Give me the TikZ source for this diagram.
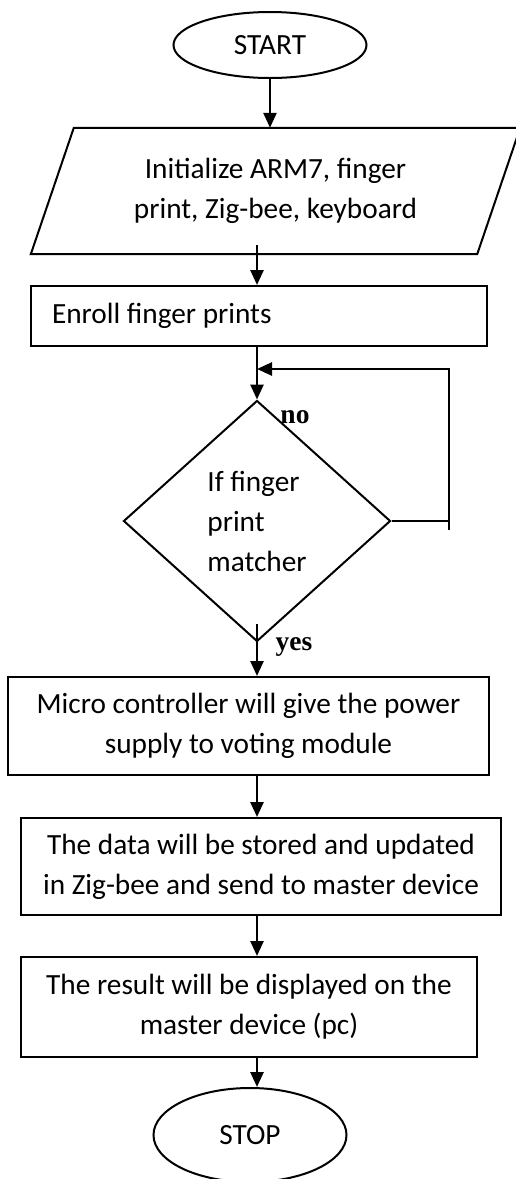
\documentclass[tikz,border=0pt]{standalone}
\usepackage{fontspec}
\setmainfont{Carlito}
\newfontfamily\lblfont{Liberation Serif}
\usetikzlibrary{shapes.geometric,arrows.meta,calc}
\tikzset{
  box/.style={draw, line width=2pt, rectangle, inner sep=0pt, align=center},
  oval/.style={draw, line width=2pt, ellipse, inner sep=0pt},
  decision/.style={draw, line width=2pt, diamond, inner sep=0pt, align=left},
  arr/.style={line width=2.6pt, -{Triangle[length=15pt,width=13pt]}},
  lbl/.style={font=\lblfont\bfseries\fontsize{27.5}{27.5}\selectfont, inner sep=0pt}
}
\begin{document}
\begin{tikzpicture}[x=1pt, y=-1pt, font=\fontsize{29.3}{40}\selectfont]
\useasboundingbox (0,0) rectangle (515,1179);
\coordinate (axis) at (257,0);
\node[oval, minimum width=193pt, minimum height=66pt] (start) at (270,45){START};
\node[inner sep=0pt, minimum width=446pt, minimum height=126pt, align=center] (init) at (275.5,191){Initialize ARM7, finger\\print, Zig-bee, keyboard};
\draw[line width=2pt] ($(init.north west)+(21.5,0)$) -- ($(init.north east)+(21.5,0)$) -- ($(init.south east)+(-21.5,0)$) -- ($(init.south west)+(-21.5,0)$) -- cycle;
\draw[arr](start.south) -- (start.south |- init.north);
\node[box, minimum width=456pt, minimum height=60pt, text width=414pt, align=flush left] (enroll) at (259,316){Enroll finger prints};
\draw[arr]([yshift=9pt]init.south -| axis) -- (enroll.north -| axis);
\node[decision, minimum width=267pt, minimum height=241pt] (match) at (257,521){If finger\\print\\matcher};
\draw[arr](enroll.south -| axis) -- (match.north);
% loop back when no match
\coordinate (lpbot) at (449,530);
\coordinate (lptop) at (449,369);
\draw[line width=2pt](match.east) -- (match.east -| lpbot);
\draw[arr](lpbot) -- (lptop) -- (lptop -| axis);
\node[lbl] (no) at (295,417){no};
\node[lbl] (yes) at (294,647){yes};
\node[box, minimum width=481pt, minimum height=98pt] (micro) at (248.5,726){Micro controller will give the power\\supply to voting module};
\draw[arr]([yshift=19pt]match.south) -- (micro.north -| axis);
\node[box, minimum width=480pt, minimum height=97pt] (data) at (261,866.5){The data will be stored and updated\\in Zig-bee and send to master device};
\draw[arr](micro.south -| axis) -- (data.north -| axis);
\node[box, minimum width=456pt, minimum height=100pt] (result) at (249,1007){The result will be displayed on the\\master device (pc)};
\draw[arr](data.south -| axis) -- (result.north -| axis);
\node[oval, minimum width=193pt, minimum height=94pt] (stop) at (250,1135){STOP};
\draw[arr](result.south -| axis) -- (stop.north -| axis);
\end{tikzpicture}
\end{document}
